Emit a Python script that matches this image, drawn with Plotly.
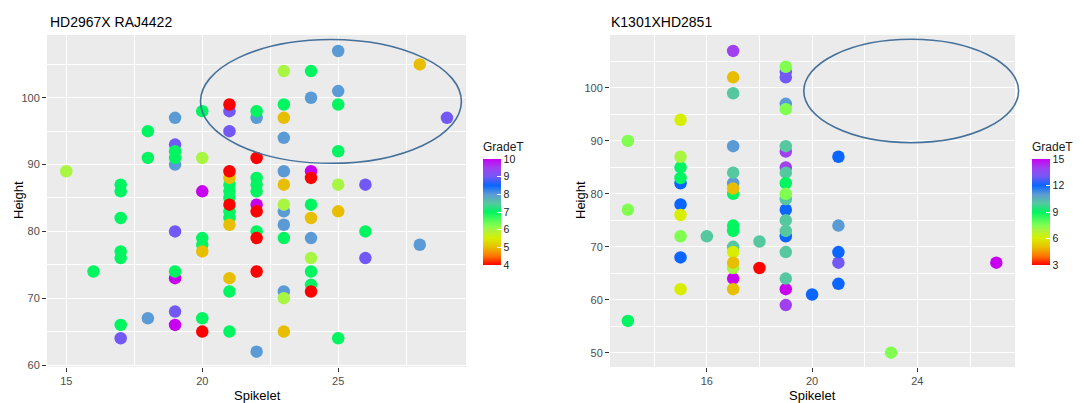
import numpy as np
import plotly.graph_objects as go

# ---------------- data ----------------
# Left panel: HD2967X RAJ4422
left_spikelet = [15, 16,
                 17, 17, 17, 17, 17, 17, 17,
                 18, 18, 18,
                 19, 19, 19, 19, 19, 19, 19, 19, 19, 19,
                 20, 20, 20, 20, 20, 20, 20, 20,
                 21, 21, 21, 21, 21, 21, 21, 21, 21, 21, 21, 21, 21, 21, 21,
                 22, 22, 22, 22, 22, 22, 22, 22, 22, 22, 22, 22,
                 23, 23, 23, 23, 23, 23, 23, 23, 23, 23, 23, 23, 23,
                 24, 24, 24, 24, 24, 24, 24, 24, 24, 24, 24,
                 25, 25, 25, 25, 25, 25, 25,
                 26, 26, 26,
                 28, 28,
                 29]
left_height = [89, 74,
               87, 86, 82, 77, 76, 66, 64,
               95, 91, 67,
               97, 93, 92, 91, 90, 80, 74, 73, 68, 66,
               98, 91, 86, 79, 78, 77, 67, 65,
               99, 98, 95, 89, 88, 87, 86, 85, 84, 83, 82, 81, 73, 71, 65,
               98, 97, 91, 88, 87, 86, 84, 83, 80, 79, 74, 62,
               104, 99, 97, 94, 89, 87, 84, 83, 81, 79, 71, 70, 65,
               104, 100, 89, 88, 84, 82, 79, 76, 74, 72, 71,
               107, 101, 99, 92, 87, 83, 64,
               87, 80, 76,
               105, 78,
               97]
left_grade = [6, 7,
              7, 7, 7, 7, 7, 7, 9,
              7, 7, 8,
              8, 9, 7, 7, 8, 9, 7, 10, 9, 10,
              7, 6, 10, 7, 7, 5, 7, 4,
              4, 9, 9, 4, 5, 7, 7, 7, 4, 7, 7, 5, 5, 7, 7,
              7, 8, 4, 7, 7, 7, 10, 4, 7, 4, 4, 8,
              6, 7, 5, 8, 8, 5, 6, 8, 8, 7, 8, 6, 5,
              7, 8, 10, 4, 7, 5, 8, 6, 7, 7, 4,
              8, 8, 7, 7, 6, 5, 7,
              9, 7, 9,
              5, 8,
              9]

# Right panel: K1301XHD2851
right_spikelet = [13, 13, 13,
                  15, 15, 15, 15, 15, 15, 15, 15, 15, 15,
                  16,
                  17, 17, 17, 17, 17, 17, 17, 17, 17, 17, 17, 17, 17, 17, 17, 17,
                  18, 18,
                  19, 19, 19, 19, 19, 19, 19, 19, 19, 19, 19, 19, 19, 19, 19, 19, 19, 19, 19, 19,
                  20,
                  21, 21, 21, 21, 21,
                  23,
                  27]
right_height = [90, 77, 56,
                94, 87, 85, 83, 82, 78, 76, 72, 68, 62,
                72,
                107, 102, 99, 89, 84, 82, 81, 80, 74, 73, 70, 69, 67, 66, 64, 62,
                71, 66,
                104, 103, 102, 97, 96, 89, 88, 85, 84, 82, 80, 79, 77, 75, 73, 72, 69, 64, 62, 59,
                61,
                87, 74, 69, 67, 63,
                50,
                67]
right_grade = [7.5, 7.5, 9,
               6, 7, 9, 9, 12, 12, 6, 7.5, 12, 6,
               10,
               14, 5, 10, 11, 10, 11, 5, 9, 9, 9, 10, 6, 5, 7, 15, 5,
               10, 3,
               7.5, 13, 13, 11, 7.5, 10, 14, 14, 10, 9, 7.5, 10, 12, 10, 10, 12, 10, 10, 15, 14,
               12,
               12, 11, 12, 13, 12,
               7.5,
               15]

left_title = "HD2967X RAJ4422"
right_title = "K1301XHD2851"
x_label = "Spikelet"
y_label = "Height"
legend_title = "GradeT"
left_grade_ticks = [4, 5, 6, 7, 8, 9, 10]
right_grade_ticks = [3, 6, 9, 12, 15]

# ---------------- styling ----------------
FONT = "Liberation Sans, Arial, sans-serif"
colorscale = [
    [0.0, "#FF0000"],
    [0.08, "#FF7000"],
    [0.167, "#E8BE00"],
    [0.25, "#D8EE00"],
    [0.333, "#A8F542"],
    [0.375, "#80FF50"],
    [0.5, "#00F560"],
    [0.583, "#55C8A0"],
    [0.667, "#5B9BD5"],
    [0.75, "#0A66FF"],
    [0.833, "#7358F5"],
    [0.917, "#A040F0"],
    [1.0, "#C800F0"],
]

W, H = 1083, 403
ML, MR, MT, MB = 47, 68, 35, 36
PW = W - ML - MR
PH = H - MT - MB


def px_x(p):
    return (p - ML) / PW


def px_y(p):
    return (H - MB - p) / PH


def ordered(xs, ys, gs):
    xs, ys, gs = np.array(xs), np.array(ys), np.array(gs, dtype=float)
    idx = np.argsort(-gs, kind="stable")
    return xs[idx], ys[idx], gs[idx]


fig = go.Figure()
lx, ly, lg = ordered(left_spikelet, left_height, left_grade)
rx, ry, rg = ordered(right_spikelet, right_height, right_grade)

fig.add_trace(go.Scatter(
    x=lx, y=ly, mode="markers", xaxis="x", yaxis="y",
    marker=dict(size=12.5, color=lg, coloraxis="coloraxis", line=dict(width=0)),
    showlegend=False))
fig.add_trace(go.Scatter(
    x=rx, y=ry, mode="markers", xaxis="x2", yaxis="y2",
    marker=dict(size=12.5, color=rg, coloraxis="coloraxis2", line=dict(width=0)),
    showlegend=False))

axis_common = dict(
    showgrid=True, gridcolor="white", gridwidth=1.3, zeroline=False,
    showline=False, ticks="outside", ticklen=4, tickcolor="#333333", tickwidth=1,
    tickfont=dict(family=FONT, size=11, color="#4D4D4D"),
)


def minor(vals):
    return dict(tickvals=vals, showgrid=True, gridcolor="white", gridwidth=0.6, ticks="")


cb_common = dict(
    xanchor="left", xpad=0, yanchor="middle", ypad=0,
    len=106, lenmode="pixels", thickness=18, outlinewidth=0,
    ticks="inside", ticklen=4, tickcolor="white", tickwidth=1,
    tickfont=dict(family=FONT, size=10.5, color="#1A1A1A"),
)

fig.update_layout(
    width=W, height=H,
    margin=dict(l=ML, r=MR, t=MT, b=MB),
    paper_bgcolor="white",
    plot_bgcolor="#EBEBEB",
    font=dict(family=FONT),
    xaxis=dict(domain=[0, px_x(466)], range=[14.29, 29.7], tickvals=[15, 20, 25],
               minor=minor([12.5, 17.5, 22.5, 27.5]), anchor="y", **axis_common),
    yaxis=dict(domain=[0, 1], range=[59.7, 109.4], tickvals=[60, 70, 80, 90, 100],
               minor=minor([65, 75, 85, 95, 105]), anchor="x", **axis_common),
    xaxis2=dict(domain=[px_x(610), 1], range=[12.32, 27.71], tickvals=[16, 20, 24],
                minor=minor([14, 18, 22, 26]), anchor="y2", **axis_common),
    yaxis2=dict(domain=[0, 1], range=[47.3, 110.0], tickvals=[50, 60, 70, 80, 90, 100],
                minor=minor([55, 65, 75, 85, 95, 105]), anchor="x2", **axis_common),
    coloraxis=dict(
        cmin=4, cmax=10, colorscale=colorscale,
        colorbar=dict(x=px_x(482.7), y=px_y(212), tickvals=left_grade_ticks, **cb_common)),
    coloraxis2=dict(
        cmin=3, cmax=15, colorscale=colorscale,
        colorbar=dict(x=px_x(1031.7), y=px_y(212), tickvals=right_grade_ticks, **cb_common)),
)

ann = []
# titles
ann.append(dict(text=left_title, x=px_x(47.5), y=px_y(22), xref="paper", yref="paper",
                xanchor="left", yanchor="middle", showarrow=False,
                font=dict(family=FONT, size=14, color="black")))
ann.append(dict(text=right_title, x=px_x(609), y=px_y(22), xref="paper", yref="paper",
                xanchor="left", yanchor="middle", showarrow=False,
                font=dict(family=FONT, size=14, color="black")))
# axis titles
for cx in (257, 812):
    ann.append(dict(text=x_label, x=px_x(cx), y=px_y(395), xref="paper", yref="paper",
                    xanchor="center", yanchor="middle", showarrow=False,
                    font=dict(family=FONT, size=13, color="black")))
for cx in (18, 580):
    ann.append(dict(text=y_label, x=px_x(cx), y=px_y(200), xref="paper", yref="paper",
                    xanchor="center", yanchor="middle", showarrow=False, textangle=-90,
                    font=dict(family=FONT, size=13, color="black")))
# legend titles
for cx in (481, 1030):
    ann.append(dict(text=legend_title, x=px_x(cx), y=px_y(147), xref="paper", yref="paper",
                    xanchor="left", yanchor="middle", showarrow=False,
                    font=dict(family=FONT, size=12, color="#1A1A1A")))
fig.update_layout(annotations=ann)

# hand-drawn ellipses highlighting the upper-right region
ell = dict(type="circle", xref="paper", yref="paper",
           line=dict(color="#44709A", width=1.6), fillcolor="rgba(0,0,0,0)", layer="above")
fig.add_shape(x0=px_x(200.5), x1=px_x(461.4), y0=px_y(163.3), y1=px_y(39.5), **ell)
fig.add_shape(x0=px_x(803.8), x1=px_x(1018.6), y0=px_y(142.7), y1=px_y(39.3), **ell)

fig.write_html("out.html",
               config={"displayModeBar": False},
               post_script="document.body.style.margin='0px';document.body.style.overflow='hidden';")
